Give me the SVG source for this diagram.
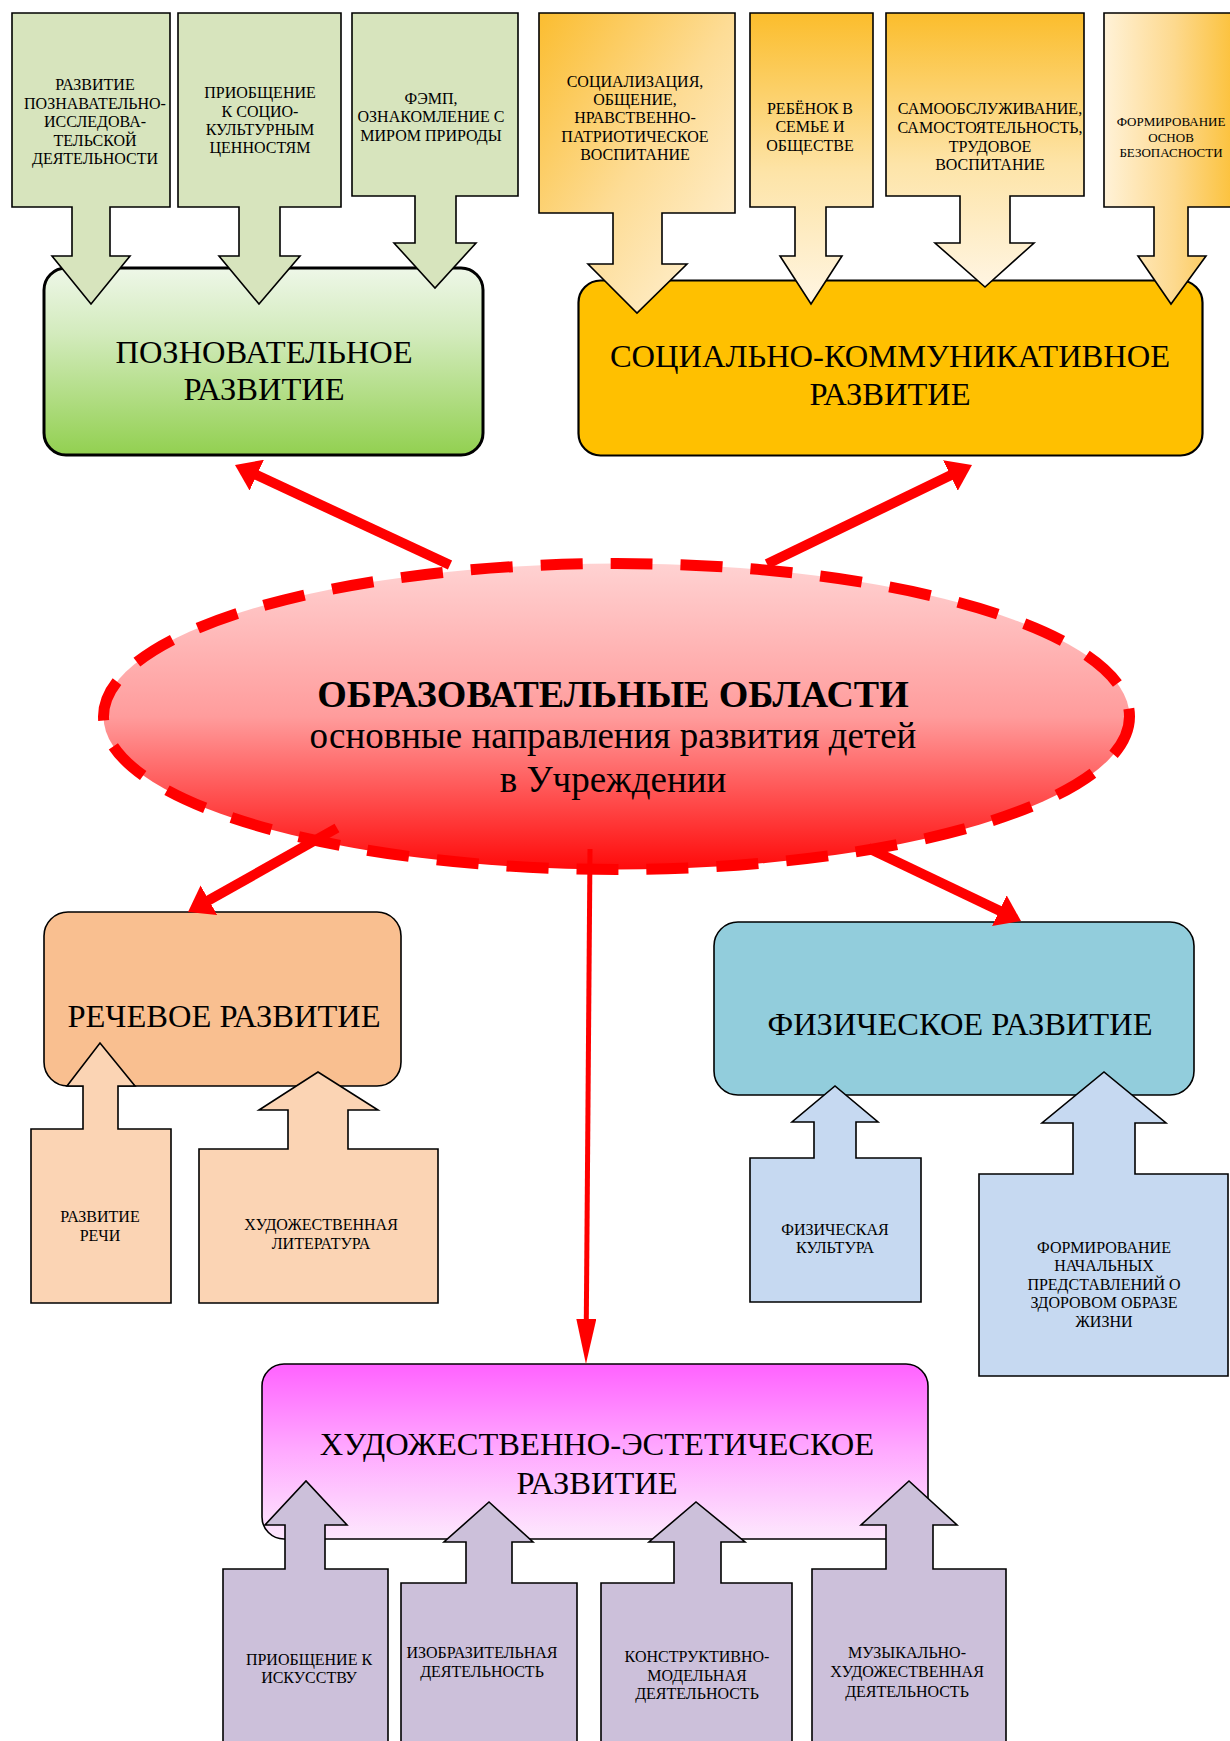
<svg xmlns="http://www.w3.org/2000/svg" width="1230" height="1741" viewBox="0 0 1230 1741">
<defs>
<style>
text{font-family:"Liberation Serif","Times New Roman",serif;text-anchor:middle;fill:#000}
.s{font-size:16px}
.xs{font-size:13px}
.big{font-size:32.5px}
.co{stroke:#000;stroke-width:1.6;stroke-linejoin:miter}
.main{stroke:#000;stroke-width:3}
.cn{fill:none;stroke:#ff0000;stroke-linecap:butt}
.green{fill:#d7e4bd}
.peach{fill:#fbd4b4}
.blue{fill:#c6d9f1}
.lilac{fill:#ccc0da}
</style>
<linearGradient id="gGreen" x1="0" y1="0" x2="0" y2="1">
<stop offset="0" stop-color="#eef7e8"/>
<stop offset="0.35" stop-color="#d3ebbd"/>
<stop offset="1" stop-color="#92d050"/>
</linearGradient>
<linearGradient id="gOA" x1="0" y1="0" x2="1" y2="1">
<stop offset="0" stop-color="#fbbd30"/>
<stop offset="0.5" stop-color="#fddc95"/>
<stop offset="1" stop-color="#fff4de"/>
</linearGradient>
<linearGradient id="gOV" x1="0" y1="0" x2="0" y2="1">
<stop offset="0" stop-color="#fbbd2c"/>
<stop offset="0.55" stop-color="#fde4a8"/>
<stop offset="1" stop-color="#fff5e2"/>
</linearGradient>
<linearGradient id="gOD" x1="0" y1="0" x2="1" y2="0">
<stop offset="0" stop-color="#fff2d8"/>
<stop offset="0.5" stop-color="#fdd98e"/>
<stop offset="1" stop-color="#fbbd2c"/>
</linearGradient>
<linearGradient id="gRed" x1="0" y1="0" x2="0" y2="1">
<stop offset="0" stop-color="#ffd2d2"/>
<stop offset="0.5" stop-color="#ff9c9c"/>
<stop offset="1" stop-color="#ff0a0a"/>
</linearGradient>
<linearGradient id="gPink" x1="0" y1="0" x2="0" y2="1">
<stop offset="0" stop-color="#ff62ff"/>
<stop offset="0.5" stop-color="#ffaaff"/>
<stop offset="1" stop-color="#fde8fd"/>
</linearGradient>
<marker id="hBig" markerUnits="userSpaceOnUse" viewBox="0 -17 24 34" markerWidth="24" markerHeight="34" refX="2" refY="0" orient="auto">
<path d="M0,-17 L24,0 L0,17 Z" fill="#ff0000"/>
</marker>
<marker id="hThin" markerUnits="userSpaceOnUse" viewBox="0 -10 45 20" markerWidth="45" markerHeight="20" refX="2" refY="0" orient="auto">
<path d="M0,-10 L45,0 L0,10 Z" fill="#ff0000"/>
</marker>
</defs>
<rect width="1230" height="1741" fill="#fff"/>

<!-- Cognitive development -->
<g id="node-cognitive">
<rect class="main" x="44" y="268" width="439" height="187" rx="22" fill="url(#gGreen)"/>
<text class="big" x="264" y="363">ПОЗНОВАТЕЛЬНОЕ</text>
<text class="big" x="264" y="400">РАЗВИТИЕ</text>
</g>
<g id="node-cog-1">
<path class="co green" d="M12,13 H170 V207 H110 V256 H130 L91,304 L52,256 H72 V207 H12 Z"/>
<text class="s" x="95" y="90">РАЗВИТИЕ</text>
<text class="s" x="95" y="109">ПОЗНАВАТЕЛЬНО-</text>
<text class="s" x="95" y="127">ИССЛЕДОВА-</text>
<text class="s" x="95" y="146">ТЕЛЬСКОЙ</text>
<text class="s" x="95" y="164">ДЕЯТЕЛЬНОСТИ</text>
</g>
<g id="node-cog-2">
<path class="co green" d="M178,13 H341 V207 H280 V256 H300 L259,304 L219,256 H239 V207 H178 Z"/>
<text class="s" x="260" y="98">ПРИОБЩЕНИЕ</text>
<text class="s" x="260" y="117">К СОЦИО-</text>
<text class="s" x="260" y="135">КУЛЬТУРНЫМ</text>
<text class="s" x="260" y="153">ЦЕННОСТЯМ</text>
</g>
<g id="node-cog-3">
<path class="co green" d="M352,13 H518 V196 H456 V243 H476 L435,288 L394,243 H415 V196 H352 Z"/>
<text class="s" x="431" y="104">ФЭМП,</text>
<text class="s" x="431" y="122">ОЗНАКОМЛЕНИЕ С</text>
<text class="s" x="431" y="141">МИРОМ ПРИРОДЫ</text>
</g>

<!-- Social-communicative development -->
<g id="node-social">
<rect x="578.5" y="280.5" width="624" height="175" rx="22" fill="#ffc000" stroke="#000" stroke-width="2.2"/>
<text class="big" x="890" y="367">СОЦИАЛЬНО-КОММУНИКАТИВНОЕ</text>
<text class="big" x="890" y="405">РАЗВИТИЕ</text>
</g>
<g id="node-soc-1">
<path class="co" fill="url(#gOA)" d="M539,13 H735 V213 H662 V264 H687 L637,313 L588,264 H613 V213 H539 Z"/>
<text class="s" x="635" y="87">СОЦИАЛИЗАЦИЯ,</text>
<text class="s" x="635" y="105">ОБЩЕНИЕ,</text>
<text class="s" x="635" y="123">НРАВСТВЕННО-</text>
<text class="s" x="635" y="142">ПАТРИОТИЧЕСКОЕ</text>
<text class="s" x="635" y="160">ВОСПИТАНИЕ</text>
</g>
<g id="node-soc-2">
<path class="co" fill="url(#gOV)" d="M750,13 H873 V207 H826 V256 H842 L811,304 L780,256 H795 V207 H750 Z"/>
<text class="s" x="810" y="114">РЕБЁНОК В</text>
<text class="s" x="810" y="132">СЕМЬЕ И</text>
<text class="s" x="810" y="151">ОБЩЕСТВЕ</text>
</g>
<g id="node-soc-3">
<path class="co" fill="url(#gOV)" d="M886,13 H1084 V196 H1010 V243 H1034 L985,287 L935,243 H960 V196 H886 Z"/>
<text class="s" x="990" y="114">САМООБСЛУЖИВАНИЕ,</text>
<text class="s" x="990" y="133">САМОСТОЯТЕЛЬНОСТЬ,</text>
<text class="s" x="990" y="152">ТРУДОВОЕ</text>
<text class="s" x="990" y="170">ВОСПИТАНИЕ</text>
</g>
<g id="node-soc-4">
<path class="co" fill="url(#gOD)" d="M1104,13 H1245 V207 H1188 V256 H1206 L1171,304 L1138,256 H1154 V207 H1104 Z"/>
<text class="xs" x="1171" y="126">ФОРМИРОВАНИЕ</text>
<text class="xs" x="1171" y="142">ОСНОВ</text>
<text class="xs" x="1171" y="157">БЕЗОПАСНОСТИ</text>
</g>

<!-- Center -->
<g id="node-center">
<ellipse cx="616.5" cy="716.5" rx="513" ry="153" fill="url(#gRed)" stroke="#ff0000" stroke-width="11" stroke-dasharray="42 28"/>
<text x="613" y="707" font-size="38" font-weight="bold">ОБРАЗОВАТЕЛЬНЫЕ ОБЛАСТИ</text>
<text x="613" y="748" font-size="37">основные направления развития детей</text>
<text x="613" y="792" font-size="37">в Учреждении</text>
</g>

<!-- Speech development -->
<g id="node-speech">
<rect class="co" x="44" y="912" width="357" height="174" rx="24" fill="#f9bf90"/>
<text class="big" x="224" y="1027">РЕЧЕВОЕ РАЗВИТИЕ</text>
</g>
<g id="node-speech-1">
<path class="co peach" d="M31,1303 V1129 H83 V1086 H67 L100,1043 L135,1086 H118 V1129 H171 V1303 Z"/>
<text class="s" x="100" y="1222">РАЗВИТИЕ</text>
<text class="s" x="100" y="1241">РЕЧИ</text>
</g>
<g id="node-speech-2">
<path class="co peach" d="M199,1303 V1149 H288 V1110 H259 L318,1072 L378,1110 H348 V1149 H438 V1303 Z"/>
<text class="s" x="321" y="1230">ХУДОЖЕСТВЕННАЯ</text>
<text class="s" x="321" y="1249">ЛИТЕРАТУРА</text>
</g>

<!-- Physical development -->
<g id="node-physical">
<rect class="co" x="714" y="922" width="480" height="173" rx="24" fill="#92cddc"/>
<text class="big" x="960" y="1035">ФИЗИЧЕСКОЕ РАЗВИТИЕ</text>
</g>
<g id="node-phys-1">
<path class="co blue" d="M750,1302 V1158 H814 V1122 H792 L835,1086 L878,1122 H856 V1158 H921 V1302 Z"/>
<text class="s" x="835" y="1235">ФИЗИЧЕСКАЯ</text>
<text class="s" x="835" y="1253">КУЛЬТУРА</text>
</g>
<g id="node-phys-2">
<path class="co blue" d="M979,1376 V1174 H1073 V1123 H1042 L1104,1072 L1166,1123 H1135 V1174 H1228 V1376 Z"/>
<text class="s" x="1104" y="1253">ФОРМИРОВАНИЕ</text>
<text class="s" x="1104" y="1271">НАЧАЛЬНЫХ</text>
<text class="s" x="1104" y="1290">ПРЕДСТАВЛЕНИЙ О</text>
<text class="s" x="1104" y="1308">ЗДОРОВОМ ОБРАЗЕ</text>
<text class="s" x="1104" y="1327">ЖИЗНИ</text>
</g>

<!-- Artistic-aesthetic development -->
<g id="node-art">
<rect class="co" x="262" y="1364" width="666" height="175" rx="22" fill="url(#gPink)"/>
<text class="big" x="597" y="1455">ХУДОЖЕСТВЕННО-ЭСТЕТИЧЕСКОЕ</text>
<text class="big" x="597" y="1494">РАЗВИТИЕ</text>
</g>
<g id="node-art-1">
<path class="co lilac" d="M223,1750 V1569 H285 V1525 H265 L306,1481 L347,1525 H325 V1569 H388 V1750 Z"/>
<text class="s" x="309" y="1665">ПРИОБЩЕНИЕ К</text>
<text class="s" x="309" y="1683">ИСКУССТВУ</text>
</g>
<g id="node-art-2">
<path class="co lilac" d="M401,1750 V1583 H466 V1542 H444 L489,1502 L533,1542 H512 V1583 H577 V1750 Z"/>
<text class="s" x="482" y="1658">ИЗОБРАЗИТЕЛЬНАЯ</text>
<text class="s" x="482" y="1677">ДЕЯТЕЛЬНОСТЬ</text>
</g>
<g id="node-art-3">
<path class="co lilac" d="M601,1750 V1583 H674 V1542 H649 L696,1502 L745,1542 H721 V1583 H792 V1750 Z"/>
<text class="s" x="697" y="1662">КОНСТРУКТИВНО-</text>
<text class="s" x="697" y="1681">МОДЕЛЬНАЯ</text>
<text class="s" x="697" y="1699">ДЕЯТЕЛЬНОСТЬ</text>
</g>
<g id="node-art-4">
<path class="co lilac" d="M812,1750 V1569 H886 V1525 H861 L909,1481 L957,1525 H933 V1569 H1006 V1750 Z"/>
<text class="s" x="907" y="1658">МУЗЫКАЛЬНО-</text>
<text class="s" x="907" y="1677">ХУДОЖЕСТВЕННАЯ</text>
<text class="s" x="907" y="1697">ДЕЯТЕЛЬНОСТЬ</text>
</g>

<!-- Connectors -->
<g id="connectors">
<line class="cn" stroke-width="10" x1="450" y1="565" x2="254.95" y2="474.28" marker-end="url(#hBig)"/>
<line class="cn" stroke-width="10" x1="767" y1="564" x2="952.18" y2="474.57" marker-end="url(#hBig)"/>
<line class="cn" stroke-width="10" x1="337" y1="828" x2="207.17" y2="901.19" marker-end="url(#hBig)"/>
<line class="cn" stroke-width="10" x1="868" y1="848" x2="1001.14" y2="911.52" marker-end="url(#hBig)"/>
<line class="cn" stroke-width="5" x1="590" y1="849" x2="586.3" y2="1321" marker-end="url(#hThin)"/>
</g>
</svg>
